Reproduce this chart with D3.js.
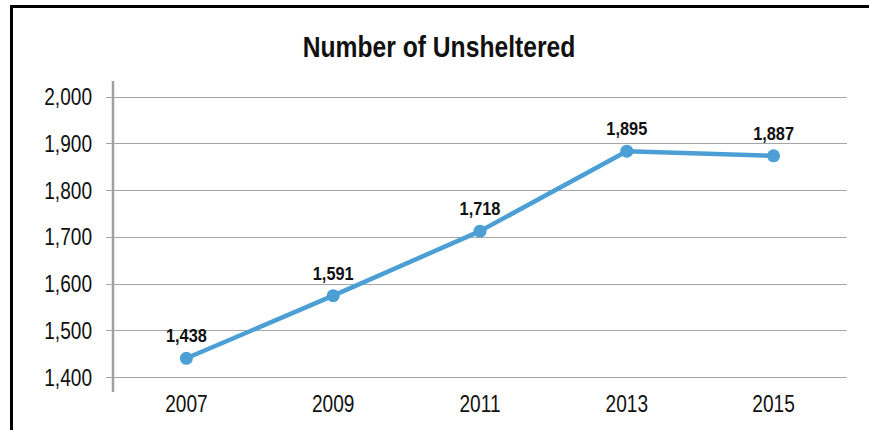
<!doctype html>
<html>
<head>
<meta charset="utf-8">
<script src="https://d3js.org/d3.v7.min.js"></script>
<title>Number of Unsheltered</title>
<style>
  body { margin: 0; background: #fff; }
  text { font-family: "Liberation Sans", Arial, sans-serif; }
</style>
</head>
<body>
<svg width="869" height="430"></svg>
<script>
// data
var years = ["2007", "2009", "2011", "2013", "2015"];
var plotted = [1440, 1574, 1712, 1883, 1873];      // where the markers sit
var labels = ["1,438", "1,591", "1,718", "1,895", "1,887"];
var yTicks = [1400, 1500, 1600, 1700, 1800, 1900, 2000];

var svg = d3.select("svg");
var squeeze = 0.83;  // fake a condensed face

// frame (left + top edges only show in the crop)
svg.append("path")
   .attr("d", "M11.5,430 V6.5 H869")
   .attr("fill", "none")
   .attr("stroke", "#000")
   .attr("stroke-width", 3);

svg.append("text")
   .attr("transform", "translate(439,57) scale(0.85,1)")
   .attr("text-anchor", "middle")
   .attr("font-size", "29px")
   .attr("font-weight", "bold")
   .attr("fill", "#111")
   .text("Number of Unsheltered");

var plotL = 113, plotR = 847, plotT = 96.5, plotB = 377;

var x = d3.scaleBand().domain(years).range([plotL, plotR]);
var y = d3.scaleLinear().domain([1400, 2000]).range([plotB, plotT]);

// gridlines
svg.append("g")
   .selectAll("line")
   .data(yTicks)
   .enter().append("line")
   .attr("x1", plotL - 7)
   .attr("x2", plotR)
   .attr("y1", function(d) { return Math.round(y(d)) + 0.5; })
   .attr("y2", function(d) { return Math.round(y(d)) + 0.5; })
   .attr("stroke", "#a6a6a6")
   .attr("stroke-width", 1.2);

// y axis line
svg.append("line")
   .attr("x1", plotL).attr("x2", plotL)
   .attr("y1", 81).attr("y2", 392)
   .attr("stroke", "#a0a0a4")
   .attr("stroke-width", 2.5);

// y tick labels
svg.append("g")
   .selectAll("text")
   .data(yTicks)
   .enter().append("text")
   .attr("transform", function(d) {
     return "translate(92," + (y(d) + 8.5) + ") scale(" + squeeze + ",1)";
   })
   .attr("text-anchor", "end")
   .attr("font-size", "23px")
   .attr("fill", "#111")
   .text(d3.format(","));

// x labels
svg.append("g")
   .selectAll("text")
   .data(years)
   .enter().append("text")
   .attr("transform", function(d) {
     return "translate(" + (x(d) + x.bandwidth() / 2) + ",412) scale(" + squeeze + ",1)";
   })
   .attr("text-anchor", "middle")
   .attr("font-size", "23px")
   .attr("fill", "#111")
   .text(function(d) { return d; });

var pts = years.map(function(d, i) {
  return { year: d, v: plotted[i], label: labels[i] };
});
var cx = function(d) { return x(d.year) + x.bandwidth() / 2; };

svg.append("path")
   .datum(pts)
   .attr("fill", "none")
   .attr("stroke", "#4b9fd5")
   .attr("stroke-width", 4.5)
   .attr("stroke-linejoin", "round")
   .attr("d", d3.line().x(cx).y(function(d) { return y(d.v); }));

svg.append("g")
   .selectAll("circle")
   .data(pts)
   .enter().append("circle")
   .attr("cx", cx)
   .attr("cy", function(d) { return y(d.v); })
   .attr("r", 6.5)
   .attr("fill", "#4b9fd5");

svg.append("g")
   .selectAll("text")
   .data(pts)
   .enter().append("text")
   .attr("transform", function(d) {
     return "translate(" + cx(d) + "," + (y(d.v) - 16) + ") scale(0.86,1)";
   })
   .attr("text-anchor", "middle")
   .attr("font-size", "19px")
   .attr("font-weight", "bold")
   .attr("fill", "#111")
   .text(function(d) { return d.label; });
</script>
</body>
</html>
